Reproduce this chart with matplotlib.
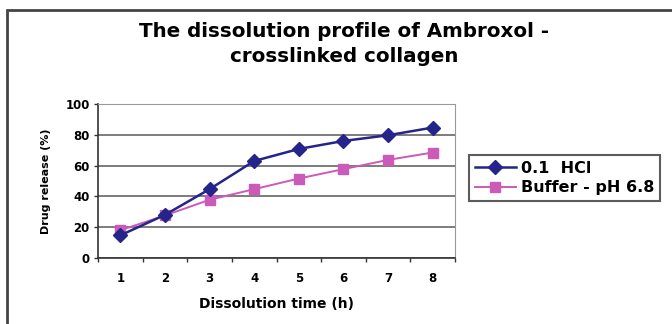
import matplotlib.pyplot as plt
from matplotlib.patches import Rectangle

plt.rcParams['font.family'] = ['DejaVu Sans']
plt.rcParams['font.weight'] = 'bold'

# Dissolution data
hours = [1, 2, 3, 4, 5, 6, 7, 8]
hcl = [14.7, 28, 44.7, 63, 70.8, 76, 79.7, 84.7]
buffer_68 = [18, 27.6, 37.8, 44.7, 51.6, 57.7, 63.7, 68.5]

fig = plt.figure(figsize=(6.72, 3.24), dpi=100)
fig.patch.set_facecolor('white')

# outer chart frame (runs off right and bottom edges)
fig.add_artist(Rectangle((7 / 672, -0.2), 1.2, 1.2 - 10 / 324,
                         transform=fig.transFigure, fill=False,
                         lw=2, edgecolor='#444444'))

ax = fig.add_axes([98 / 672, 1 - 258 / 324, 357 / 672, 154 / 324])

ax.plot(hours, hcl, color='#24248A', marker='D', markersize=7,
        lw=1.8, label='0.1  HCl', zorder=3)
ax.plot(hours, buffer_68, color='#CC5AB8', marker='s', markersize=7.5,
        lw=1.4, label='Buffer - pH 6.8', zorder=2)

ax.set_xlim(0.5, 8.5)
ax.set_ylim(0, 100)
ax.set_yticks([0, 20, 40, 60, 80, 100])
ax.set_xticks(hours)
ax.set_xticks([h + 0.5 for h in range(0, 9)], minor=True)
ax.tick_params(axis='x', which='major', length=0, pad=10, labelsize=8.5)
ax.tick_params(axis='x', which='minor', length=3, width=1, color='#333333')
ax.tick_params(axis='y', length=3, width=1, color='#333333', labelsize=8.5, pad=3)
ax.yaxis.grid(True, color='#666666', lw=1.2)
ax.set_axisbelow(True)

for side in ['top', 'right']:
    ax.spines[side].set_color('#999999')
for side in ['left', 'bottom']:
    ax.spines[side].set_color('#333333')
    ax.spines[side].set_linewidth(1.2)

ax.set_xlabel('Dissolution time (h)', fontsize=10, fontweight='bold', labelpad=9)
ax.set_ylabel('Drug release (%)', fontsize=8, fontweight='bold', labelpad=10)

fig.text(344 / 672, 1 - 44 / 324,
         'The dissolution profile of Ambroxol -\ncrosslinked collagen',
         ha='center', va='center', fontsize=14.3, fontweight='bold',
         linespacing=1.35)

leg = ax.legend(loc='upper left', bbox_to_anchor=(469 / 672, 1 - 155 / 324),
                bbox_transform=fig.transFigure, fontsize=11.5, frameon=True,
                fancybox=False, borderaxespad=0, handlelength=2.6,
                borderpad=0.35, labelspacing=0.3, handletextpad=0.3)
leg.get_frame().set_edgecolor('#333333')
leg.get_frame().set_linewidth(1.5)

fig.savefig('out.png', dpi=100)
